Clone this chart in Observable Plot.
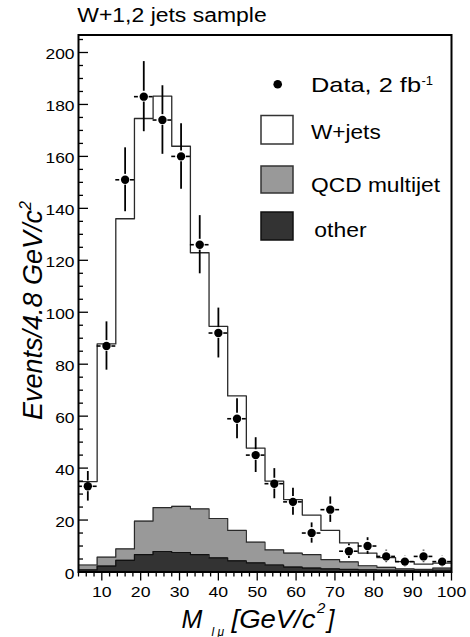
<!DOCTYPE html>
<html><head><meta charset="utf-8">
<script src="https://cdn.jsdelivr.net/npm/d3@7"></script>
<script src="https://cdn.jsdelivr.net/npm/@observablehq/plot@0.6"></script>
<style>
body{margin:0;background:#fff;}
#chart svg{font-family:"Liberation Sans",Arial,Helvetica,sans-serif;}
</style></head><body><div id="chart"></div>
<script>
// ---- data ----
const binEdges = [4, 8.8, 13.6, 18.4, 23.2, 28, 32.8, 37.6, 42.4, 47.2, 52, 56.8, 61.6, 66.4, 71.2, 76, 80.8, 85.6, 90.4, 95.2, 100];
const wjets  = [32.1, 82.1, 127.1, 155.0, 158.4, 138.6, 98.6, 74.0, 51.8, 36.2, 26.5, 20.6, 15.2, 11.2, 7.3, 4.9, 3.7, 2.8, 2.0, 1.9];
const qcd    = [1.9, 3.4, 4.4, 12.9, 16.9, 17.8, 17.6, 15.2, 11.7, 8.0, 5.8, 5.4, 5.2, 3.6, 2.9, 1.6, 1.1, 0.6, 0.6, 0.8];
const other  = [0.8, 2.3, 4.5, 6.7, 7.9, 7.5, 6.7, 5.4, 4.3, 3.5, 2.7, 1.9, 1.5, 1.2, 1.0, 0.8, 0.7, 0.6, 0.4, 0.7];
const dataCounts = [33, 87, 151, 183, 174, 160, 126, 92, 59, 45, 34, 27, 15, 24, 8, 10, 6, 4, 6, 4];
const dataErrors = [5.7, 9.3, 12.3, 13.5, 13.2, 12.6, 11.2, 9.6, 7.7, 6.7, 5.8, 5.2, 3.9, 4.9, 2.8, 3.2, 2.4, 2.0, 2.4, 2.0];
const xTicks = [10, 20, 30, 40, 50, 60, 70, 80, 90, 100];
const xMinorTicks = [4, 6, 8, 12, 14, 16, 18, 22, 24, 26, 28, 32, 34, 36, 38, 42, 44, 46, 48, 52, 54, 56, 58, 62, 64, 66, 68, 72, 74, 76, 78, 82, 84, 86, 88, 92, 94, 96, 98];
const yTicks = [0, 20, 40, 60, 80, 100, 120, 140, 160, 180, 200];
const yMinorTicks = [5, 10, 15, 25, 30, 35, 45, 50, 55, 65, 70, 75, 85, 90, 95, 105, 110, 115, 125, 130, 135, 145, 150, 155, 165, 170, 175, 185, 190, 195, 205];
const legendLabels = ["Data, 2 fb", "W+jets", "QCD multijet", "other"];

// ---- derived ----
const W = 470, H = 637;
const mL = 78, mR = 19, mT = 34.5, mB = 65.5;
const innerW = W - mL - mR;
const otherTop = other;
const qcdTop = other.map((v, i) => v + qcd[i]);
const totalTop = qcdTop.map((v, i) => v + wjets[i]);
function steps(vals) {
  const pts = [];
  vals.forEach((v, i) => { pts.push({x: binEdges[i], y: v}); pts.push({x: binEdges[i + 1], y: v}); });
  return pts;
}
const points = dataCounts.map((v, i) => ({
  lo: binEdges[i], hi: binEdges[i + 1], xc: (binEdges[i] + binEdges[i + 1]) / 2, v, e: dataErrors[i]
}));
const gap = 5.4;
const lineCol = "#2a2a2a";

const plot = Plot.plot({
  width: W, height: H,
  marginLeft: mL, marginRight: mR, marginTop: mT, marginBottom: mB,
  style: {fontFamily: "Liberation Sans, Arial, Helvetica, sans-serif", color: "black", background: "white", overflow: "visible"},
  x: {domain: [4, 100], label: null},
  y: {domain: [0, (H - mB - mT) / 2.5975], label: null},
  marks: [
    Plot.areaY(steps(qcdTop), {x: "x", y1: 0, y2: "y", fill: "#999999"}),
    Plot.line(steps(qcdTop), {x: "x", y: "y", stroke: lineCol, strokeWidth: 1.2}),
    Plot.areaY(steps(otherTop), {x: "x", y1: 0, y2: "y", fill: "#333333"}),
    Plot.line(steps(otherTop), {x: "x", y: "y", stroke: "#111", strokeWidth: 1.2}),
    Plot.line(steps(totalTop), {x: "x", y: "y", stroke: lineCol, strokeWidth: 1.3}),
    Plot.ruleX(points, {x: "xc", y1: d => d.v + d.e, y2: "v", insetBottom: gap, stroke: "black", strokeWidth: 1.8}),
    Plot.ruleX(points, {x: "xc", y1: "v", y2: d => d.v - d.e, insetTop: gap, stroke: "black", strokeWidth: 1.8}),
    Plot.ruleY(points, {y: "v", x1: "lo", x2: "xc", insetRight: gap, stroke: "black", strokeWidth: 1.6}),
    Plot.ruleY(points, {y: "v", x1: "xc", x2: "hi", insetLeft: gap, stroke: "black", strokeWidth: 1.6}),
    Plot.dot(points, {x: "xc", y: "v", r: 4.2, fill: "black", stroke: "none"}),
    Plot.tickY(yTicks, {y: d => d, insetRight: innerW - 10, stroke: "black", strokeWidth: 1.3}),
    Plot.tickY(yMinorTicks, {y: d => d, insetRight: innerW - 5, stroke: "black", strokeWidth: 1.3}),
    Plot.axisY(yTicks, {tickSize: 0, tickPadding: 4, fontSize: 14.5, dy: 2, label: null, tickFormat: d => String(d)}),
    Plot.axisX(xTicks, {tickSize: 9, tickPadding: 5, fontSize: 15.5, label: null, stroke: "black", strokeWidth: 1.3, tickFormat: d => String(d)}),
    Plot.axisX(xMinorTicks, {tickSize: 5, label: null, stroke: "black", strokeWidth: 1.3, tickFormat: () => ""}),
    Plot.frame({stroke: "black", strokeWidth: 2})
  ]
});
document.getElementById("chart").appendChild(plot);

const svg = d3.select(plot);
function stretch(node, factor, target) {
  const len = node.getComputedTextLength();
  if (!len) return;
  node.setAttribute("textLength", target != null ? target : len * factor);
  node.setAttribute("lengthAdjust", "spacingAndGlyphs");
}
svg.selectAll('g[aria-label="y-axis tick label"] text').each(function() { stretch(this, 1.2); });
svg.selectAll('g[aria-label="x-axis tick label"] text').each(function() { stretch(this, 1.14); });

const extra = svg.append("g").attr("text-anchor", "start").attr("fill", "black");

// title
const title = extra.append("text").attr("x", 77.3).attr("y", 21.7)
  .attr("font-size", 20).text("W+1,2 jets sample");
stretch(title.node(), 1, 189.4);

// y label
const yl = extra.append("text").attr("transform", "translate(41.5,420) rotate(-90)")
  .attr("font-size", 27).attr("font-style", "italic");
yl.append("tspan").text("Events/4.8 GeV/c");
yl.append("tspan").attr("font-size", 16).attr("dy", -11).text("2");

// x label
const xl = extra.append("g").attr("font-style", "italic");
xl.append("text").attr("x", 181.5).attr("y", 627.7).attr("font-size", 25).text("M");
xl.append("text").attr("x", 211.5).attr("y", 635.5).attr("font-size", 12).text("l μ");
const xl2 = xl.append("text").attr("x", 231.5).attr("y", 627.7).attr("font-size", 25).text("[GeV/c");
stretch(xl2.node(), 1, 84);
xl.append("text").attr("x", 317).attr("y", 613).attr("font-size", 15).text("2");
xl.append("text").attr("x", 327.5).attr("y", 627.7).attr("font-size", 25).text("]");

// legend
const lg = extra.append("g");
lg.append("circle").attr("cx", 277.7).attr("cy", 84.3).attr("r", 4.3).attr("fill", "black");
const t0 = lg.append("text").attr("x", 311).attr("y", 92.3).attr("font-size", 21).text(legendLabels[0]);
stretch(t0.node(), 1, 110);
lg.append("text").attr("x", 421.5).attr("y", 84.5).attr("font-size", 13).text("-1");
const boxes = [
  {y: 115.5, h: 28.5, fill: "#ffffff", stroke: "#333", ty: 139, tx: 311, tw: 69.7, label: legendLabels[1]},
  {y: 166, h: 27, fill: "#999999", stroke: "#333", ty: 191.7, tx: 311, tw: 129, label: legendLabels[2]},
  {y: 212, h: 28, fill: "#333333", stroke: "#111", ty: 236.7, tx: 314.3, tw: 52.3, label: legendLabels[3]}
];
boxes.forEach(b => {
  lg.append("rect").attr("x", 261).attr("y", b.y).attr("width", 32).attr("height", b.h)
    .attr("fill", b.fill).attr("stroke", b.stroke).attr("stroke-width", 1.5);
  const t = lg.append("text").attr("x", b.tx).attr("y", b.ty).attr("font-size", 21).text(b.label);
  stretch(t.node(), 1, b.tw);
});
</script></body></html>
